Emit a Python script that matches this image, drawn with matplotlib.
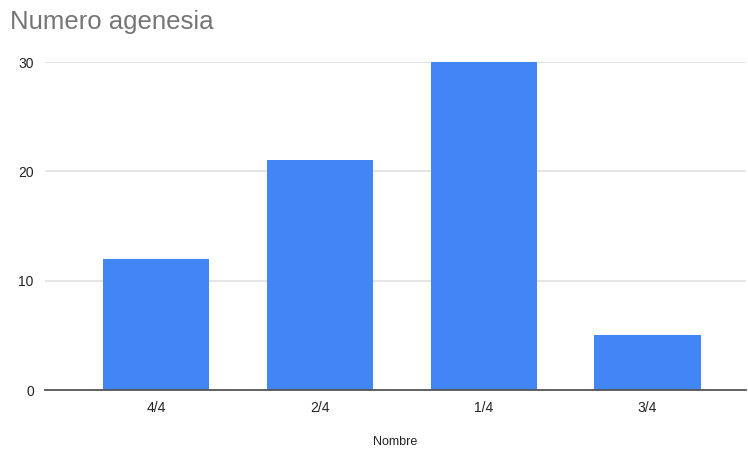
import matplotlib.pyplot as plt

categorias = ["4/4", "2/4", "1/4", "3/4"]
valores = [12, 21, 30, 5]

plt.rcParams["font.family"] = ["Liberation Sans", "DejaVu Sans"]

fig = plt.figure(figsize=(7.48, 4.5), dpi=100)
ax = fig.add_axes([0.060, 0.1333, 0.937, 0.7289])

x = list(range(len(categorias)))
ax.bar(x, valores, width=0.65, color="#4285f4", zorder=3)

ax.set_xlim(-0.68, 3.60)
ax.set_ylim(0, 30)
ax.set_yticks([0, 10, 20, 30])
ax.set_xticks(x)
ax.set_xticklabels(categorias)

# grid and axis styling
ax.grid(axis="y", color="#e0e0e0", linewidth=1.2, zorder=0)
for s in ["top", "right", "left"]:
    ax.spines[s].set_visible(False)
ax.spines["bottom"].set_color("#555555")
ax.spines["bottom"].set_linewidth(1.3)
ax.spines["bottom"].set_zorder(4)
ax.tick_params(axis="both", length=0, labelsize=10, colors="#222222")
ax.tick_params(axis="y", pad=8)
ax.tick_params(axis="x", pad=8)

ax.set_xlabel("Nombre", fontsize=9, color="#222222", labelpad=15)

fig.text(0.014, 0.950, "Numero agenesia", fontsize=18.5, color="#757575",
         ha="left", va="center")

plt.savefig("out.png", dpi=100)
